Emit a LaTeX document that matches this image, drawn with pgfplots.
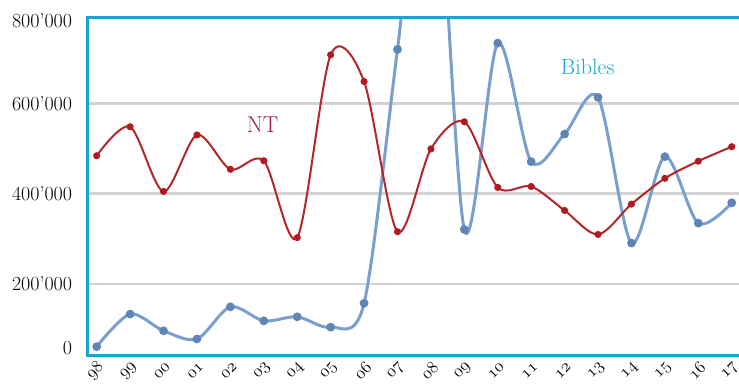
\documentclass[border=0pt]{standalone}
\usepackage{pgfplots}
\usepackage{pgfplotstable}
\pgfplotsset{compat=1.18}
\definecolor{framecol}{HTML}{14A6D0}
\definecolor{ntred}{HTML}{B3262A}
\definecolor{ntmark}{HTML}{B01A20}
\definecolor{ntlabel}{HTML}{9E1E3C}
\definecolor{bibblue}{HTML}{7B9FCC}
\definecolor{bibmark}{HTML}{5D85B6}
\definecolor{biblabel}{HTML}{1BA6CB}
\definecolor{gridgray}{HTML}{D2D2D2}

\pgfplotstableread{
idx nt bib
0 484000 62000
1 548000 134000
2 405000 97000
3 530000 79000
4 454000 150000
5 473000 119000
6 303000 128000
7 707000 105000
8 648000 158000
9 316000 719000
10 499000 1300000
11 559000 321000
12 414000 733000
13 416000 471000
14 363000 532000
15 310000 613000
16 377000 291000
17 434000 482000
18 472000 335000
19 504000 380000
}\data

\begin{document}
\begin{tikzpicture}
\begin{axis}[name=ax, scale only axis, width=651.7pt, height=338.4pt,
  xmin=-0.281, xmax=19.218, ymin=42000, ymax=790000,
  axis line style={draw=none},
  xtick={0,...,19},
  xticklabels={$\mathnormal{98}$,$\mathnormal{99}$,$\mathnormal{00}$,$\mathnormal{01}$,$\mathnormal{02}$,$\mathnormal{03}$,$\mathnormal{04}$,$\mathnormal{05}$,$\mathnormal{06}$,$\mathnormal{07}$,$\mathnormal{08}$,$\mathnormal{09}$,$\mathnormal{10}$,$\mathnormal{11}$,$\mathnormal{12}$,$\mathnormal{13}$,$\mathnormal{14}$,$\mathnormal{15}$,$\mathnormal{16}$,$\mathnormal{17}$},
  x tick label style={xshift=-1.5pt, yshift=-15pt, rotate=45, anchor=center, inner sep=0pt, font=\fontsize{18}{18}\selectfont},
  ytick={200000,400000,600000},
  yticklabels={200’000,400’000,600’000},
  extra y ticks={59000,782000},
  extra y tick labels={0,800’000},
  extra tick style={grid=none},
  ymajorgrids, grid style={gridgray, line width=2.5pt},
  major tick length=0pt,
  y tick label style={font=\fontsize{20}{20}\selectfont, anchor=east, inner sep=0pt, xshift=-15pt},
  scaled y ticks=false,
  clip=true,
]
\addplot[bibblue, line width=3pt, smooth, mark=*, mark size=2.8pt, mark options={fill=bibmark, draw=bibmark}] table[x=idx, y=bib] {\data};
\addplot[ntred, line width=2pt, smooth, mark=*, mark size=2.5pt, mark options={fill=ntmark, draw=ntmark}] table[x=idx, y=nt] {\data};
\node[text=ntlabel, font=\fontsize{23}{23}\selectfont] at (axis cs:4.96,552000) {NT};
\node[text=biblabel, font=\fontsize{22}{22}\selectfont] at (axis cs:14.69,681000) {Bibles};
\end{axis}
\draw[framecol, line width=2.5pt] ([xshift=5pt]ax.north east) -- (ax.north west) -- (ax.south west) -- ([xshift=5pt]ax.south east);
\pgfresetboundingbox
\path[use as bounding box] ([xshift=-87.3pt,yshift=-27.3pt]ax.south west) rectangle ([yshift=17.3pt]ax.north east);
\end{tikzpicture}
\end{document}
